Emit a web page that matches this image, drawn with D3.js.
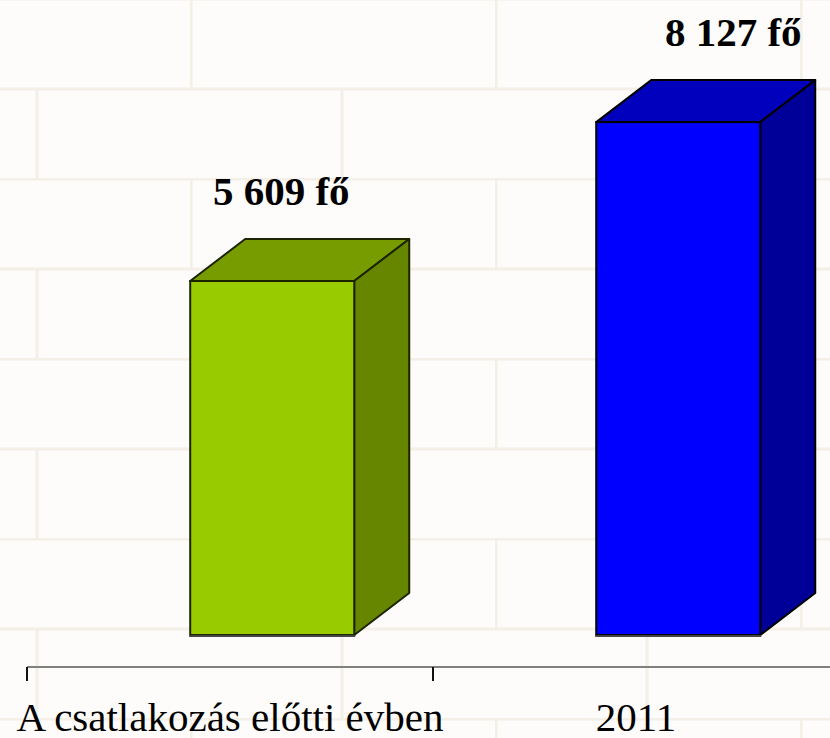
<!DOCTYPE html>
<html><head><meta charset="utf-8">
<script src="https://cdn.jsdelivr.net/npm/d3@7"></script>
<style>html,body{margin:0;padding:0;background:#fdfcfa;}svg{display:block;}
.cat{font-family:"Liberation Serif","Times New Roman",serif;font-size:41px;fill:#000;}
.val{font-family:"Liberation Serif","Times New Roman",serif;font-size:41px;font-weight:bold;fill:#000;}
</style>
</head><body>
<script>
const categories = ["A csatlakozás előtti évben", "2011"];
const values = [5609, 8127];
const valueLabels = ["5 609 fő", "8 127 fő"];
const frontColors = ["#99cc00", "#0000ff"];
const topColors = ["#779c00", "#0000bd"];
const sideColors = ["#668600", "#000098"];
const edgeColors = ["#1c2400", "#000000"];

const W = 830, H = 738;
const svg = d3.select("body").append("svg").attr("width", W).attr("height", H);
const defs = svg.append("defs");

// brick wall background
const pat = defs.append("pattern").attr("id", "bricks").attr("patternUnits", "userSpaceOnUse")
  .attr("x", 190).attr("y", -2).attr("width", 305).attr("height", 180);
pat.append("rect").attr("width", 305).attr("height", 180).attr("fill", "#fdfcfa");
const mortar = "#f4efe7";
pat.append("line").attr("x1", 0).attr("x2", 305).attr("y1", 1).attr("y2", 1).attr("stroke", mortar).attr("stroke-width", 3);
pat.append("line").attr("x1", 0).attr("x2", 305).attr("y1", 91).attr("y2", 91).attr("stroke", mortar).attr("stroke-width", 3);
pat.append("line").attr("x1", 1).attr("x2", 1).attr("y1", 0).attr("y2", 90).attr("stroke", mortar).attr("stroke-width", 3);
pat.append("line").attr("x1", 152).attr("x2", 152).attr("y1", 90).attr("y2", 180).attr("stroke", mortar).attr("stroke-width", 3);
svg.append("rect").attr("width", W).attr("height", H).attr("fill", "url(#bricks)");

const x = d3.scaleBand().domain(categories).range([27, 839]).paddingInner(0).paddingOuter(0);
const y = d3.scaleLinear().domain([0, 9000]).range([635, 67]);
const bw = x.bandwidth();
const frontOff = 0.402 * bw, frontW = 0.404 * bw;
const dx = 55, dy = 42;

const bars = svg.append("g").selectAll("g").data(categories).join("g");
bars.each(function(c, i) {
  const g = d3.select(this);
  const x0 = x(c) + frontOff, x1 = x0 + frontW;
  const yt = y(values[i]), yb = y(0);
  const ec = edgeColors[i];
  g.append("path").attr("d", `M${x0},${yt}L${x0+dx},${yt-dy}L${x1+dx},${yt-dy}L${x1},${yt}Z`)
    .attr("fill", topColors[i]).attr("stroke", ec).attr("stroke-width", 2).attr("stroke-linejoin", "round");
  g.append("path").attr("d", `M${x1},${yt}L${x1+dx},${yt-dy}L${x1+dx},${yb-dy}L${x1},${yb}Z`)
    .attr("fill", sideColors[i]).attr("stroke", ec).attr("stroke-width", 2).attr("stroke-linejoin", "round");
  g.append("rect").attr("x", x0).attr("y", yt).attr("width", frontW).attr("height", yb - yt)
    .attr("fill", frontColors[i]).attr("stroke", ec).attr("stroke-width", 2);
  g.append("line").attr("x1", x0 - 1).attr("x2", x1 + 1).attr("y1", yb + 1).attr("y2", yb + 1)
    .attr("stroke", "#444").attr("stroke-width", 2);
  g.append("text").attr("class", "val").attr("x", x0 + frontW / 2 + 9 + 46 * i).attr("y", yt - dy - 34)
    .attr("text-anchor", "middle").text(valueLabels[i]);
});

// axis
const axisY = 667;
const ax = svg.append("g").attr("transform", `translate(0,${axisY})`)
  .call(d3.axisBottom(x).tickSize(0).tickPadding(0));
ax.attr("font-family", null).attr("font-size", null);
ax.select(".domain").attr("d", `M27,0H830`).attr("stroke", "#808080").attr("stroke-width", 2);
ax.selectAll(".tick text").attr("class", "cat").attr("y", 64).attr("dy", null);
const bounds = categories.map(c => x(c)).concat([x.range()[1]]);
svg.append("g").selectAll("line").data(bounds).join("line")
  .attr("x1", d => d).attr("x2", d => d).attr("y1", axisY).attr("y2", axisY + 14)
  .attr("stroke", "#111").attr("stroke-width", 2);
</script>
</body></html>
